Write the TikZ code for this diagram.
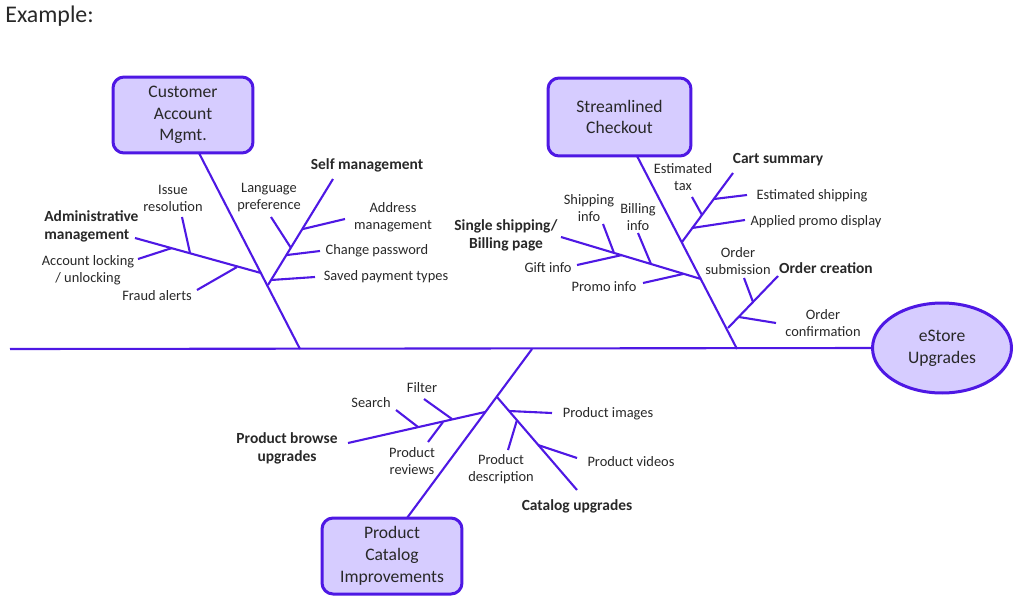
\documentclass[tikz,border=0pt]{standalone}
\usepackage{fontspec}
\setmainfont{Carlito}
\usepackage{tikz}
\usetikzlibrary{shapes.geometric}
\usetikzlibrary{positioning}

\definecolor{bonecol}{RGB}{78,24,228}
\definecolor{boxfill}{RGB}{214,204,255}
\definecolor{txtcol}{RGB}{40,40,40}

\tikzset{
  bone/.style={draw=bonecol,line width=0.042cm},
  headbox/.style={draw=bonecol,fill=boxfill,line width=0.06cm,rounded corners=0.22cm,
    align=center,inner sep=0pt,minimum width=2.8cm,minimum height=1.52cm,
    font=\fontsize{10}{12.4}\selectfont,text=txtcol},
  lbl/.style={align=center,inner sep=0pt,font=\fontsize{8.2}{9.7}\selectfont,text=txtcol},
  blbl/.style={lbl,font=\fontsize{8.8}{10.2}\selectfont\bfseries}
}

\begin{document}
\begin{tikzpicture}[x=0.02cm,y=-0.02cm]
\useasboundingbox (0,0) rectangle (1024,609);

\node[anchor=west,inner sep=0pt,font=\fontsize{13.6}{16}\selectfont,text=txtcol] (title) at (5,16) {Example:};

%head and spine
\node[ellipse,draw=bonecol,fill=boxfill,line width=0.06cm,minimum width=2.78cm,minimum height=1.8cm,
  inner sep=0pt,align=center,font=\fontsize{10}{12.4}\selectfont,text=txtcol] (estore) at (942,348) {eStore\\Upgrades};
\coordinate (tail) at (10,349);
\draw[bone] (tail) -- (estore.west);

%Customer account bone
\node[headbox] (cust) at (183,115) {Customer\\Account\\Mgmt.};
\coordinate (custfoot) at (300,349);
\coordinate (custtop) at (199,153);
\draw[bone] (custfoot) -- (custtop);
\draw[bone] (135,238) coordinate (admin) -- (261,273);
\draw[bone] (182,217) -- (190,253);
\draw[bone] (138,259) -- (172,248);
\draw[bone] (197,290) -- (237,267);
\draw[bone] (268,285) -- (333,179) coordinate (self);
\draw[bone] (271,217) -- (291,248);
\draw[bone] (345,219) -- (303,229);
\draw[bone] (320,251) -- (287,255);
\draw[bone] (315,277) -- (271,280);
\node[blbl,align=left,anchor=west] (adminlbl) at (44,226) {Administrative\\management};
\node[lbl] (issue) at (173,198) {Issue\\resolution};
\node[lbl] (locking) at (88,270) {Account locking\\/ unlocking};
\node[lbl] (fraud) at (157,296) {Fraud alerts};
\node[blbl] (selflbl) at (367,165) {Self management};
\node[lbl] (lang) at (269,198) {Language\\preference};
\node[lbl] (address) at (393,217) {Address\\management};
\node[lbl] (passwd) at (377,251) {Change password};
\node[lbl] (payment) at (386,277) {Saved payment types};

%Checkout bone
\node[headbox,minimum width=2.86cm,minimum height=1.56cm] (checkout) at (619.5,117) {Streamlined\\Checkout};
\coordinate (chkfoot) at (737,349);
\coordinate (chktop) at (637,156);
\draw[bone] (chkfoot) -- (chktop);
\draw[bone] (682,242) -- (733,173) coordinate (cart);
\draw[bone] (692,197) -- (702,215);
\draw[bone] (747,195) -- (714,199);
\draw[bone] (745,220) -- (692,228);
\draw[bone] (561,237) coordinate (single) -- (701,279);
\draw[bone] (603,224) -- (614,253);
\draw[bone] (638,233) -- (651,264);
\draw[bone] (577,265) -- (622,255);
\draw[bone] (643,283) -- (683,274);
\draw[bone] (728,328) -- (778,276) coordinate (order);
\draw[bone] (744,278) -- (753,302);
\draw[bone] (776,323) -- (739,317);
\node[blbl] (cartlbl) at (778,160) {Cart summary};
\node[lbl] (tax) at (683,177) {Estimated\\tax};
\node[lbl] (estship) at (812,196) {Estimated shipping};
\node[lbl] (promodisp) at (816,222) {Applied promo display};
\node[blbl] (singlelbl) at (506,235) {Single shipping/\\Billing page};
\node[lbl] (shipinfo) at (589,208) {Shipping\\info};
\node[lbl] (billinfo) at (638,217) {Billing\\info};
\node[lbl] (gift) at (548,268) {Gift info};
\node[lbl] (promoinfo) at (604,287) {Promo info};
\node[lbl] (submit) at (738,261) {Order\\submission};
\node[blbl] (orderlbl) at (826,268) {Order creation};
\node[lbl] (confirm) at (823,323) {Order\\confirmation};

%Catalog bone
\node[headbox] (catalog) at (392,556) {Product\\Catalog\\Improvements};
\coordinate (catfoot) at (532,349);
\coordinate (catend) at (407,518);
\draw[bone] (catfoot) -- (catend);
\draw[bone] (348,443) coordinate (browse) -- (485,412);
\draw[bone] (396,410) -- (418,427);
\draw[bone] (424,399) -- (452,419);
\draw[bone] (428,442) -- (443,422);
\draw[bone] (497,397) -- (577,490) coordinate (catup);
\draw[bone] (552,413) -- (509,411);
\draw[bone] (508,450) -- (517,420);
\draw[bone] (577,458) -- (538,445);
\node[lbl] (search) at (371,403) {Search};
\node[lbl] (filter) at (422,388) {Filter};
\node[blbl] (browselbl) at (287,448) {Product browse\\upgrades};
\node[lbl] (reviews) at (412,461) {Product\\reviews};
\node[lbl] (images) at (608,414) {Product images};
\node[lbl] (videos) at (631,462) {Product videos};
\node[lbl] (descr) at (501,469) {Product\\description};
\node[blbl] (catuplbl) at (577,506) {Catalog upgrades};

\end{tikzpicture}
\end{document}
